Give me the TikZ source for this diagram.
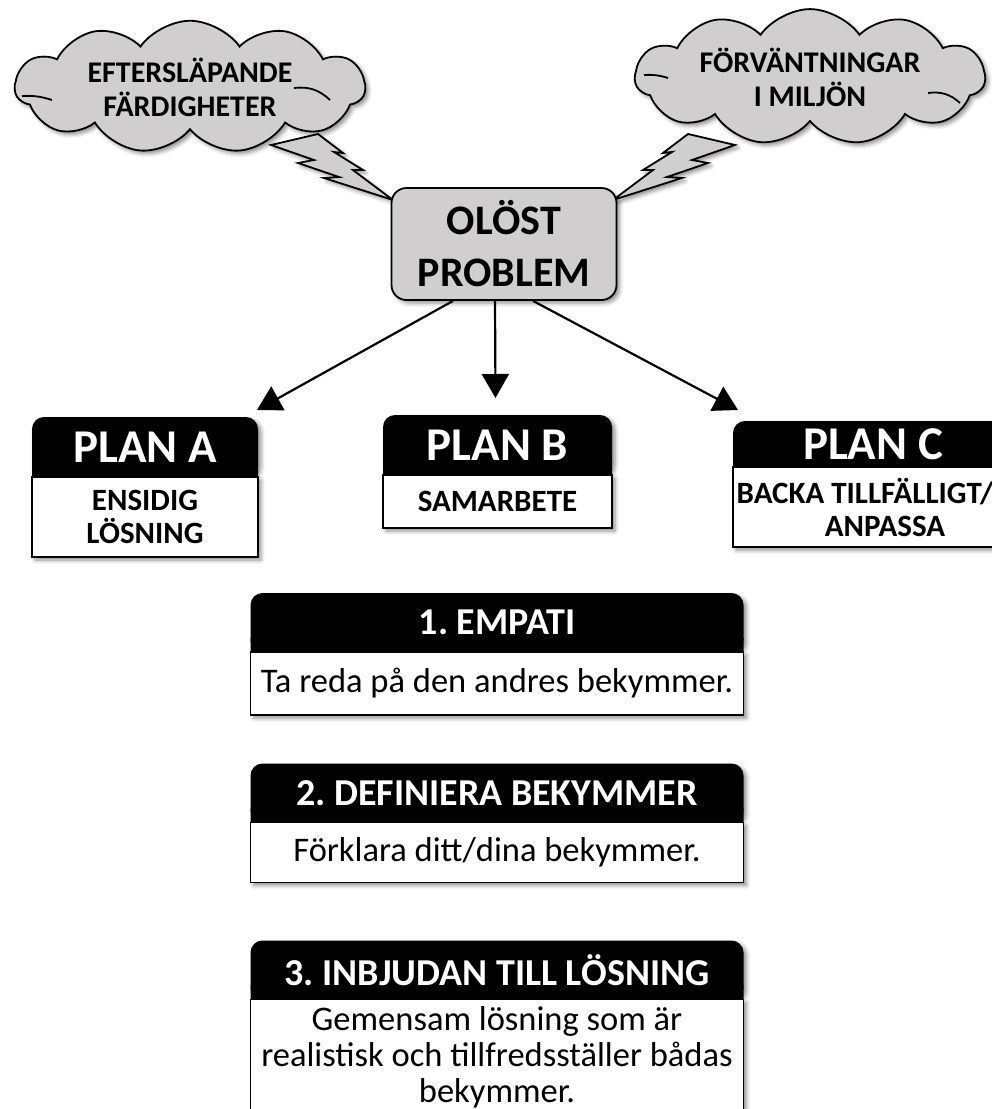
\documentclass[tikz,border=0pt]{standalone}
\usepackage{fontspec}
\setmainfont{Carlito}
\usetikzlibrary{shapes.symbols,arrows.meta,positioning,calc,shadows.blur}
\definecolor{boxgray}{HTML}{D0CECE}

\tikzset{
  soft/.style={blur shadow={shadow xshift=3pt, shadow yshift=-3pt, shadow blur radius=4pt, shadow opacity=45}},
  cloudbox/.style={cloud, cloud puffs=11, cloud puff arc=110, cloud ignores aspect, draw, line width=1.8, fill=boxgray, soft, align=center, font=\bfseries\fontsize{30}{34}\selectfont, minimum width=350, minimum height=118},
  problembox/.style={rectangle, rounded corners=15, draw, line width=1.8, fill=boxgray, soft, align=center, font=\bfseries\fontsize{42}{52}\selectfont, minimum width=225, minimum height=112},
  planhead/.style={rectangle, rounded corners=12, fill=black, text=white, soft, font=\bfseries\fontsize{47}{52}\selectfont, inner sep=0pt, outer sep=0pt},
  plantext/.style={rectangle, draw, line width=1.8, fill=white, soft, align=center, font=\bfseries\fontsize{31}{33}\selectfont, inner sep=0pt, outer sep=0pt},
  stephead/.style={planhead, font=\bfseries\fontsize{38}{42}\selectfont, minimum width=493, minimum height=59},
  steptext/.style={plantext, font=\fontsize{34.5}{36}\selectfont, minimum width=493},
  arr/.style={-{Triangle[length=24pt, width=27pt, fill=black]}, line width=2.2},
  bolt/.style={draw, line width=1.8, fill=boxgray, soft, line join=miter},
  crease/.style={line width=1.8}
}

\begin{document}
\frenchspacing
\begin{tikzpicture}[x=1pt, y=-1pt]
\useasboundingbox (0,0) rectangle (992,1109);
\clip (0,0) rectangle (992,1109);

% Draw clouds
\node[cloudbox] (cloudL) at (190,87) {EFTERSLÄPANDE\\FÄRDIGHETER};
\node[cloudbox] (cloudR) at (810,77) {FÖRVÄNTNINGAR\\I MILJÖN};

% Draw cloud creases
\draw[crease] (22,96) to[bend left=10] (52,100);
\draw[crease] (294,88) to[bend left=25] (330,100);
\draw[crease] (644,75) to[bend left=10] (668,78);
\draw[crease] (928,93) to[bend left=25] (960,103);

% Draw lightning bolts
\draw[bolt] (318,134) -- (271,145) -- (314,160) -- (298,163) -- (339,177) -- (324,178) -- (393,200) -- (353,170) -- (363,170) -- (334,152) -- (343,153) -- cycle;
\draw[bolt] (688,134) -- (735,145) -- (692,160) -- (708,163) -- (667,177) -- (682,178) -- (613,200) -- (653,170) -- (643,170) -- (672,152) -- (663,153) -- cycle;

% Draw problem box
\node[problembox] (problem) at (504,244) {OLÖST\\PROBLEM};

% Draw plan boxes
\node[planhead, minimum width=226, minimum height=60] (planA) at (145,447) {PLAN A};
\fill (planA.south west) rectangle ++(14,-14) (planA.south east) rectangle ++(-14,-14);
\node[plantext, minimum width=226, minimum height=80, below=0pt of planA] (planAtxt) {ENSIDIG\\LÖSNING};

\node[planhead, minimum width=229, minimum height=60] (planB) at (497.5,445) {PLAN B};
\fill (planB.south west) rectangle ++(14,-14) (planB.south east) rectangle ++(-14,-14);
\node[plantext, minimum width=229, minimum height=53, below=0pt of planB] (planBtxt) {SAMARBETE};

\node[planhead, minimum width=280, minimum height=46] (planC) at (873,444) {PLAN C};
\fill (planC.south west) rectangle ++(14,-14) (planC.south east) rectangle ++(-14,-14);
\node[plantext, minimum width=280, minimum height=80, below=0pt of planC] (planCtxt) {BACKA TILLFÄLLIGT/\hspace*{16pt}\\\hspace*{24pt}ANPASSA};

% Draw arrows
\draw[arr] ($(problem.south)+(-51,0)$) -- ($(planA.north east)+(-1,-7)$);
\draw[arr] ($(problem.south)+(-9,0)$) -- ($(planB.north)+(-2,-17)$);
\draw[arr] ($(problem.south)+(29,0)$) -- ($(planC.north west)+(5,-11)$);

% Draw steps
\node[stephead] (step1) at (497,622.5) {1. EMPATI};
\fill (step1.south west) rectangle ++(14,-14) (step1.south east) rectangle ++(-14,-14);
\node[steptext, minimum height=63, below=0pt of step1] (step1txt) {Ta reda på den andres bekymmer.};

\node[stephead] (step2) at (497,793) {2. DEFINIERA BEKYMMER};
\fill (step2.south west) rectangle ++(14,-14) (step2.south east) rectangle ++(-14,-14);
\node[steptext, minimum height=60, below=0pt of step2] (step2txt) {Förklara ditt/dina bekymmer.};

\node[stephead] (step3) at (497,970) {3. INBJUDAN TILL LÖSNING};
\fill (step3.south west) rectangle ++(14,-14) (step3.south east) rectangle ++(-14,-14);
\node[steptext, minimum height=116, below=0pt of step3] (step3txt) {Gemensam lösning som är\\realistisk och tillfredsställer bådas\\bekymmer.};
\end{tikzpicture}
\end{document}
